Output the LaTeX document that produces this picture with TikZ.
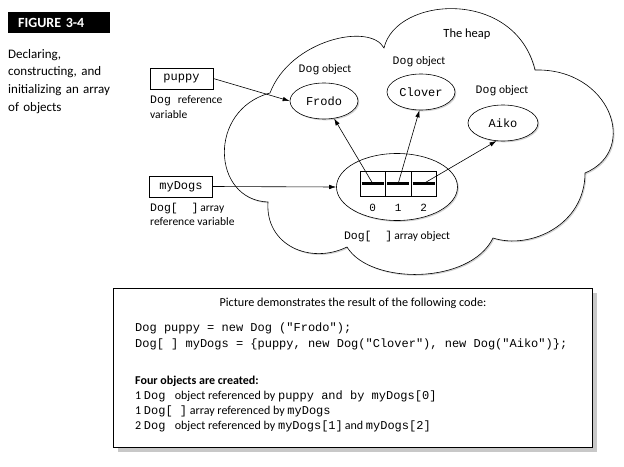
\documentclass[tikz,border=0pt]{standalone}
\usepackage{fontspec}
\setmainfont{Carlito}
\setmonofont{Liberation Mono}
\usetikzlibrary{arrows.meta,shapes.geometric,shadows}
\definecolor{cShadow}{RGB}{200,200,200}
\tikzset{
  objshadow/.style={drop shadow={shadow xshift=1.3pt, shadow yshift=-1.3pt, fill=black!35}},
  obj/.style={draw, ellipse, fill=white, line width=0.6pt, minimum width=68pt, minimum height=36pt, inner sep=0pt, font=\fontsize{12}{14}\ttfamily, objshadow},
  refbox/.style={draw, rectangle, fill=white, line width=0.6pt, minimum width=63pt, minimum height=21pt, inner sep=0pt, font=\fontsize{12}{14}\ttfamily},
  cell/.style={draw, rectangle, fill=white, line width=0.6pt, minimum width=25.5pt, minimum height=25pt, inner sep=0pt},
  lbl/.style={font=\fontsize{11.5}{13}\selectfont, inner sep=0pt},
  ptr/.style={-{Latex[length=7pt,width=4.5pt]}, line width=0.6pt}
}

\begin{document}
\begin{tikzpicture}[x=1pt, y=-1pt]
\useasboundingbox (0,0) rectangle (624,466);
% caption at the left
\node[fill=black, text=white, anchor=north west, minimum height=21pt, text width=82pt, inner xsep=10pt, align=left, font=\fontsize{14}{16}\selectfont\bfseries] (title) at (8,12) {FIGURE 3-4};
\node[anchor=north west, inner sep=0pt, text width=115pt, align=left, font=\fontsize{13}{17.7}\selectfont] (caption) at (8,49) {Declaring,\\constructing, and\\initializing an array\\of objects};
% the heap
\draw[fill=white, line width=0.6pt, objshadow]
  (270,93) .. controls (290,40) and (370,22) .. (384,48)
  .. controls (396,-4) and (515,-12) .. (535,70)
  .. controls (610,68) and (640,150) .. (585,173)
  .. controls (585,225) and (530,250) .. (493,238)
  .. controls (470,285) and (370,285) .. (347,247)
  .. controls (310,265) and (265,245) .. (268,202)
  .. controls (212,200) and (207,110) .. (270,93);
\node[font=\fontsize{12.5}{14}\selectfont] (heap) at (467,34) {The heap};
% Dog objects
\node[obj] (frodo) at (324,101) {Frodo};
\node[obj] (clover) at (421,92) {Clover};
\node[obj, minimum width=70pt] (aiko) at (503,123) {Aiko};
\node[lbl] (frodolbl) at (325,70) {\texttt{Dog} object};
\node[lbl] (cloverlbl) at (419,62) {\texttt{Dog} object};
\node[lbl] (aikolbl) at (502,91) {\texttt{Dog} object};
% array object
\node[obj, minimum width=121pt, minimum height=67pt] (arr) at (397,187) {};
\foreach \i/\x in {0/372.7,1/398.2,2/423.7} {
  \node[cell] (c\i) at (\x,183.5) {};
  \draw[line width=3pt] ([xshift=2pt]c\i.west) -- ([xshift=-2pt]c\i.east);
  \node[font=\fontsize{11}{13}\ttfamily] (n\i) at (\x,208) {\i};
}
\node[lbl] (arrlbl) at (397,237) {\texttt{Dog[~~]}\,array object};
% reference variables
\node[refbox] (puppy) at (181.5,78.5) {puppy};
\node[lbl, anchor=north west, align=left, font=\fontsize{11.5}{15}\selectfont] (puppylbl) at (150,95) {\texttt{Dog }reference\\variable};
\node[refbox] (mydogs) at (181,186.5) {myDogs};
\node[lbl, anchor=north west, align=left, font=\fontsize{11.5}{14}\selectfont] (mydogslbl) at (150,203) {\texttt{Dog[~~]}\,array\\reference variable};
% pointers
\draw[ptr] (puppy.east) -- (frodo.west);
\draw[ptr] (mydogs.east) -- (arr.west);
\draw[ptr] (c0.center) -- (frodo.-60);
\draw[ptr] (c1.center) -- (clover.-95);
\draw[ptr] (c2.center) -- (aiko.-110);
% code box
\node[draw, fill=white, line width=0.8pt, anchor=north west, minimum width=479pt, minimum height=159pt, drop shadow={shadow xshift=5pt, shadow yshift=-5pt, fill=cShadow, opacity=1}] (codebox) at (113,288) {};
\node[font=\fontsize{12.2}{13}\selectfont] (codehdr) at (353,303) {Picture demonstrates the result of the following code:};
\node[anchor=west, align=left, inner sep=0pt, font=\fontsize{12}{16}\ttfamily] (code) at (135,336) {Dog puppy = new Dog ("Frodo");\\Dog[ ] myDogs = \{puppy, new Dog("Clover"), new Dog("Aiko")\};};
\node[anchor=north west, align=left, inner sep=0pt, font=\fontsize{12}{15}\selectfont] (summary) at (135,376) {\textbf{Four objects are created:}\\1 \texttt{Dog }\,object referenced by \texttt{puppy and by myDogs[0]}\\1 \texttt{Dog[ ]} array referenced by \texttt{myDogs}\\2 \texttt{Dog }\,object referenced by \texttt{myDogs[1]}\,and \texttt{myDogs[2]}};
\end{tikzpicture}
\end{document}
